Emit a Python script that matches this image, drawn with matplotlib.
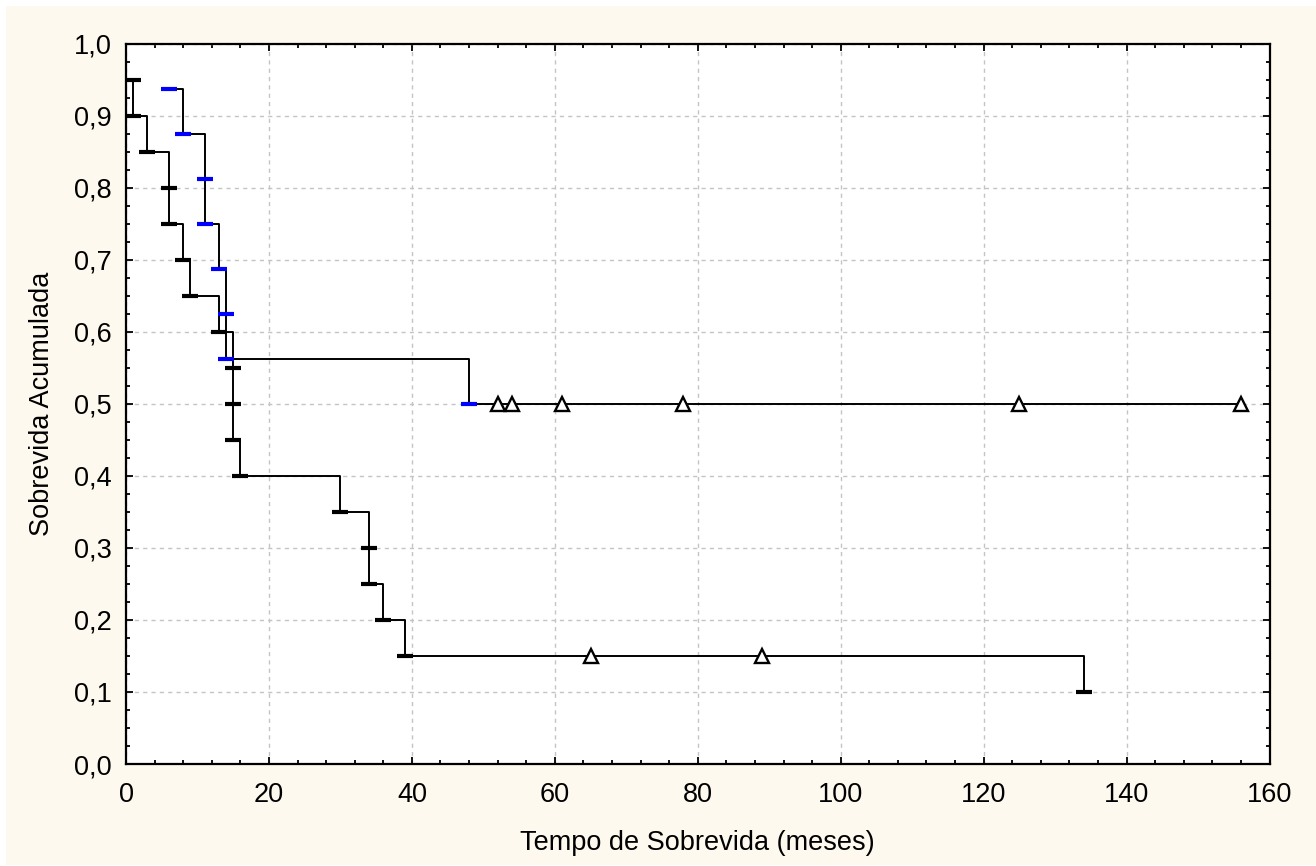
import numpy as np
import matplotlib.pyplot as plt
from matplotlib.patches import Rectangle
from matplotlib.ticker import MultipleLocator, FuncFormatter

plt.rcParams['font.family'] = ['Liberation Sans', 'DejaVu Sans']

# Grupo 1 (marcadores pretos)
g1_times = [1, 1, 3, 6, 6, 8, 9, 13, 15, 15, 15, 16, 30, 34, 34, 36, 39, 134]
g1_surv = [0.95, 0.90, 0.85, 0.80, 0.75, 0.70, 0.65, 0.60, 0.55, 0.50, 0.45,
           0.40, 0.35, 0.30, 0.25, 0.20, 0.15, 0.10]
g1_cens = [65, 89]

# Grupo 2 (marcadores azuis)
g2_times = [6, 8, 11, 11, 13, 14, 14, 48]
g2_surv = [0.9375, 0.875, 0.8125, 0.75, 0.6875, 0.625, 0.5625, 0.5]
g2_cens = [52, 54, 61, 78, 125, 156]

x_ticks = [0, 20, 40, 60, 80, 100, 120, 140, 160]
y_ticks = [0.0, 0.1, 0.2, 0.3, 0.4, 0.5, 0.6, 0.7, 0.8, 0.9, 1.0]

fig = plt.figure(figsize=(13.16, 8.66), dpi=100, facecolor='white')
# fundo creme
fig.patches.append(Rectangle((6 / 1316, 1 / 866), 1 - 6 / 1316, 1 - 7 / 866,
                             transform=fig.transFigure, facecolor='#fdf9ee',
                             edgecolor='none', zorder=-10))

ax = fig.add_axes([126 / 1316, 102 / 866, (1269.5 - 126) / 1316, (763.7 - 43.3) / 866])
ax.set_facecolor('white')


def km_plot(times, surv, cens, mcolor):
    t = np.array(times, dtype=float)
    s = np.array(surv, dtype=float)
    end = max(t[-1], max(cens) if cens else t[-1])
    xs = np.append(t, end)
    ys = np.append(s, s[-1])
    ax.step(xs, ys, where='post', color='black', lw=1.4, zorder=3)
    ax.plot(t, s, ls='none', marker='_', ms=11.5, mew=3.0, color=mcolor, zorder=4)
    c = np.array(cens, dtype=float)
    idx = np.searchsorted(t, c, side='right') - 1
    cy = s[idx]
    ax.plot(c, cy, ls='none', marker='^', ms=9.5, mew=1.7, mfc='white',
            mec='black', zorder=5)


km_plot(g1_times, g1_surv, g1_cens, 'black')
km_plot(g2_times, g2_surv, g2_cens, '#0000ff')

ax.set_xlim(0, 160)
ax.set_ylim(0, 1.0)
ax.set_xticks(x_ticks)
ax.set_yticks(y_ticks)
ax.xaxis.set_minor_locator(MultipleLocator(4))
ax.yaxis.set_minor_locator(MultipleLocator(0.025))
ax.yaxis.set_major_formatter(FuncFormatter(lambda v, p: f'{v:.1f}'.replace('.', ',')))

ax.tick_params(which='both', direction='in', top=True, right=True,
               labelsize=19.5, width=1.3, color='black')
ax.tick_params(which='major', length=5)
ax.tick_params(which='minor', length=3)
ax.tick_params(axis='x', which='major', pad=13)
ax.tick_params(axis='y', which='major', pad=10)

for sp in ax.spines.values():
    sp.set_linewidth(1.6)

ax.grid(True, which='major', color='#c4c4c4', ls=(0, (3, 3)), lw=1.0)
ax.set_axisbelow(True)

ax.set_xlabel('Tempo de Sobrevida (meses)', fontsize=19.5, labelpad=16)
ax.set_ylabel('Sobrevida Acumulada', fontsize=19.5, labelpad=14)

plt.savefig('out.png', dpi=100, facecolor=fig.get_facecolor())
